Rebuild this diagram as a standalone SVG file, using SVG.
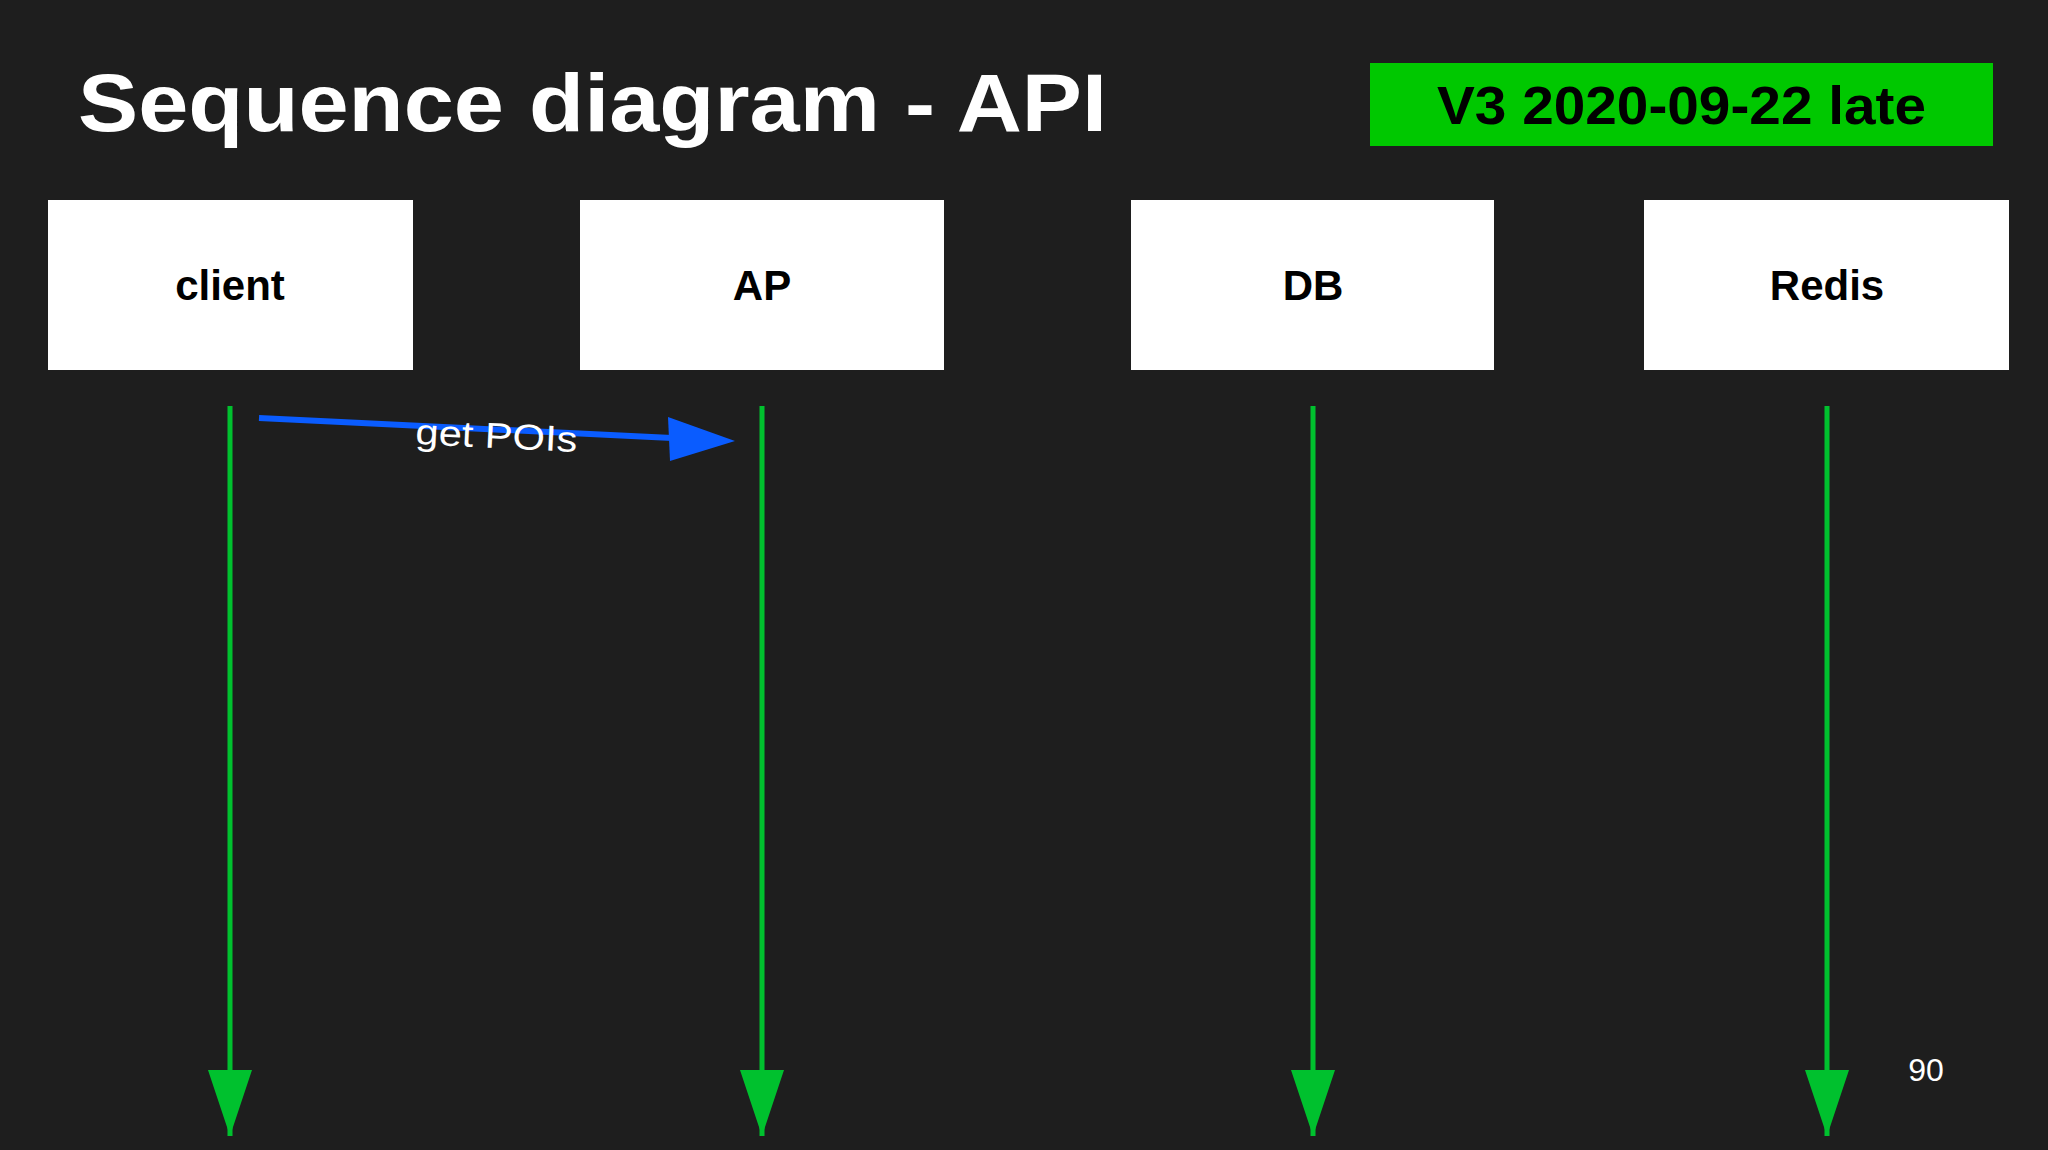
<svg xmlns="http://www.w3.org/2000/svg" width="2048" height="1150" viewBox="0 0 2048 1150">
<defs>
<style>
.box{fill:#ffffff}
.lbl{font-family:"Liberation Sans",Arial,sans-serif;font-weight:bold;font-size:42px;fill:#000;text-anchor:middle}
.life{stroke:#00c12e;stroke-width:5;fill:none}
</style>
<marker id="ga" markerUnits="userSpaceOnUse" markerWidth="66" markerHeight="44" refX="66" refY="22" orient="auto" viewBox="0 0 66 44"><path d="M0,0 L66,22 L0,44 Z" fill="#00c12e"/></marker>
</defs>
<rect width="2048" height="1150" fill="#1e1e1e"/>
<text x="78" y="131" textLength="1029" lengthAdjust="spacingAndGlyphs" font-family="Liberation Sans,Arial,sans-serif" font-weight="bold" font-size="82" fill="#fff">Sequence diagram - API</text>
<g id="badge"><rect x="1370" y="63" width="623" height="83" fill="#00c800"/>
<text x="1437" y="124" textLength="489" lengthAdjust="spacingAndGlyphs" font-family="Liberation Sans,Arial,sans-serif" font-weight="bold" font-size="54" fill="#000">V3 2020-09-22 late</text></g>
<g id="client"><rect class="box" x="48" y="200" width="365" height="170"/><text class="lbl" x="230" y="300">client</text></g>
<g id="AP"><rect class="box" x="580" y="200" width="364" height="170"/><text class="lbl" x="762" y="300">AP</text></g>
<g id="DB"><rect class="box" x="1131" y="200" width="363" height="170"/><text class="lbl" x="1313" y="300">DB</text></g>
<g id="Redis"><rect class="box" x="1644" y="200" width="365" height="170"/><text class="lbl" x="1827" y="300">Redis</text></g>
<g id="connectors">
<line class="life" x1="230" y1="406" x2="230" y2="1136" marker-end="url(#ga)"/>
<line class="life" x1="762" y1="406" x2="762" y2="1136" marker-end="url(#ga)"/>
<line class="life" x1="1313" y1="406" x2="1313" y2="1136" marker-end="url(#ga)"/>
<line class="life" x1="1827" y1="406" x2="1827" y2="1136" marker-end="url(#ga)"/>
<line x1="259" y1="418" x2="672" y2="438" stroke="#0a5cff" stroke-width="6"/>
<path d="M735,441 L668,417 L670,461 Z" fill="#0a5cff"/>
<text x="415" y="444" textLength="162" lengthAdjust="spacingAndGlyphs" transform="rotate(2.8 415 444)" font-family="Liberation Sans,Arial,sans-serif" font-size="36" fill="#fff">get POIs</text>
</g>
<text x="1926" y="1081" text-anchor="middle" font-family="Liberation Sans,Arial,sans-serif" font-size="32" fill="#fff">90</text>
</svg>
